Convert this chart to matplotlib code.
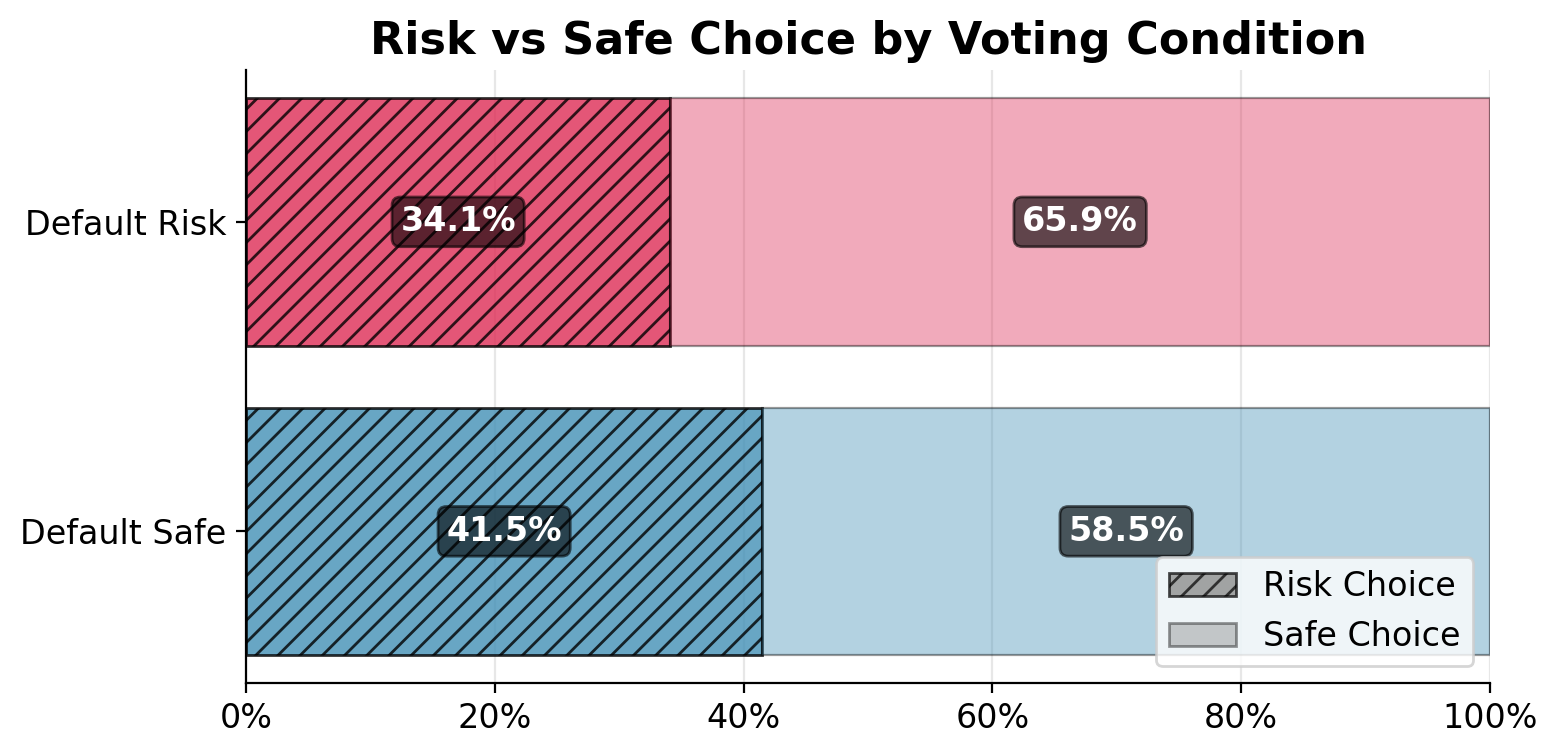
import matplotlib.pyplot as plt
from matplotlib.patches import Patch
from matplotlib.ticker import PercentFormatter

conditions = ['Default Safe', 'Default Risk']
risk_pct = [41.5, 34.1]
safe_pct = [58.5, 65.9]
colors = ['#4290B6', '#DE2C55']

fig, ax = plt.subplots(figsize=(7.785, 3.775), dpi=200)
fig.subplots_adjust(left=0.158, right=0.957, bottom=0.0954, top=0.907)

y = list(range(len(conditions)))
for i in y:
    ax.barh(i, risk_pct[i], height=0.8, color=colors[i], alpha=0.8,
            hatch='///', edgecolor='black', linewidth=1)
    ax.barh(i, safe_pct[i], left=risk_pct[i], height=0.8, color=colors[i],
            alpha=0.4, edgecolor='black', linewidth=0.8)
    for left, w in [(0, risk_pct[i]), (risk_pct[i], safe_pct[i])]:
        ax.text(left + w / 2, i, f'{w:.1f}%', ha='center', va='center',
                fontsize=12, fontweight='bold', color='white',
                bbox=dict(boxstyle='round,pad=0.25', facecolor='black',
                          edgecolor='black', alpha=0.6))

ax.set_yticks(y)
ax.set_yticklabels(conditions, fontsize=12)
ax.set_xlim(0, 100)
ax.xaxis.set_major_formatter(PercentFormatter(decimals=0))
ax.tick_params(axis='x', labelsize=12)
ax.grid(axis='x', alpha=0.3)
ax.set_axisbelow(True)
ax.spines['top'].set_visible(False)
ax.spines['right'].set_visible(False)
ax.set_title('Risk vs Safe Choice by Voting Condition', fontsize=16, fontweight='bold')

handles = [Patch(facecolor='gray', alpha=0.7, hatch='///', edgecolor='black', label='Risk Choice'),
           Patch(facecolor='gray', alpha=0.4, edgecolor='black', label='Safe Choice')]
ax.legend(handles=handles, loc='lower right', fontsize=12)

plt.savefig('out.png', dpi=200)
